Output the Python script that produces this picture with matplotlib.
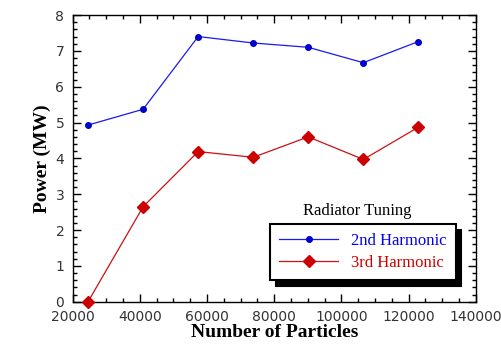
import matplotlib
matplotlib.use("Agg")
import matplotlib.pyplot as plt
from matplotlib.ticker import MultipleLocator

particles = [24576, 40960, 57344, 73728, 90112, 106496, 122880]
second_harmonic = [4.93, 5.37, 7.40, 7.22, 7.10, 6.67, 7.26]
third_harmonic = [0.0, 2.65, 4.19, 4.03, 4.60, 3.97, 4.87]

fig = plt.figure(figsize=(5.02, 3.5), dpi=100)
ax = fig.add_axes([0.1448, 0.138, 0.8032, 0.819])

l1, = ax.plot(particles, second_harmonic, color="#1a1aee", lw=0.9, marker="o", ms=4,
              mec="#0000cc", mfc="#0000cc", label="2nd Harmonic", clip_on=False, zorder=3)
l2, = ax.plot(particles, third_harmonic, color="#cc1111", lw=0.9, marker="D", ms=6,
              mec="#cc0000", mfc="#cc0000", label="3rd Harmonic", clip_on=False, zorder=3)

ax.set_xlim(20000, 140000)
ax.set_ylim(0, 8)
ax.xaxis.set_major_locator(MultipleLocator(20000))
ax.xaxis.set_minor_locator(MultipleLocator(5000))
ax.yaxis.set_major_locator(MultipleLocator(1))
ax.yaxis.set_minor_locator(MultipleLocator(0.2))
ax.tick_params(which="both", direction="in", top=True, right=True, width=1)
ax.tick_params(which="major", length=6, labelsize=10)
ax.tick_params(which="minor", length=3)
ax.tick_params(axis="x", pad=6)
ax.tick_params(axis="y", pad=6)
for lab in ax.get_xticklabels() + ax.get_yticklabels():
    lab.set_family("DejaVu Sans")
    lab.set_color("#333333")
for s in ax.spines.values():
    s.set_linewidth(1.0)

ax.set_xlabel("Number of Particles", family="Liberation Serif", fontweight="bold", fontsize=14, labelpad=0)
ax.set_ylabel("Power (MW)", family="Liberation Serif", fontweight="bold", fontsize=14, labelpad=3)

leg = ax.legend(handles=[l1, l2], loc="lower left", bbox_to_anchor=(0.49, 0.075),
                prop={"family": "Liberation Serif", "size": 12}, frameon=True, fancybox=False,
                shadow={"ox": 4, "oy": -4, "color": "black", "alpha": 1.0},
                borderpad=0.55, handlelength=3.5, labelspacing=0.35, borderaxespad=0)
leg.get_frame().set_edgecolor("black")
leg.get_frame().set_linewidth(1.5)
for t, c in zip(leg.get_texts(), ["#0000ee", "#cc0000"]):
    t.set_color(c)

ax.text(0.705, 0.315, "Radiator Tuning", transform=ax.transAxes, ha="center", va="center",
        family="Liberation Serif", fontsize=12)

fig.savefig("out.png", dpi=100)
